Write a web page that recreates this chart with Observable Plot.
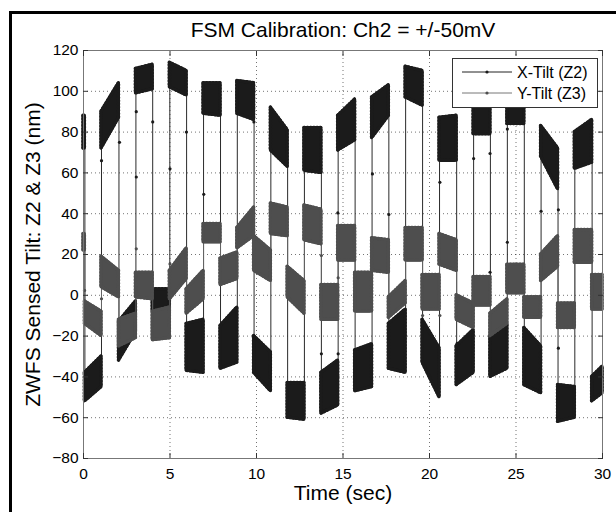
<!DOCTYPE html>
<html><head><meta charset="utf-8">
<script src="https://cdn.jsdelivr.net/npm/d3@7"></script>
<script src="https://cdn.jsdelivr.net/npm/@observablehq/plot@0.6"></script>
<style>
body{margin:0;background:#fff;}
#wrap{position:relative;width:616px;height:512px;overflow:hidden;font-family:"Liberation Sans",Arial,sans-serif;}
.bar{position:absolute;background:#000;pointer-events:none;}
#legend{position:absolute;left:452px;top:58px;}
</style></head><body><div id="wrap"></div>
<script>
const titleText = "FSM Calibration: Ch2 = +/-50mV";
const xLabel = "Time (sec)";
const yLabel = "ZWFS Sensed Tilt: Z2 & Z3 (nm)";
const seriesNames = ["X-Tilt (Z2)", "Y-Tilt (Z3)"];
const xTicks = [0, 5, 10, 15, 20, 25, 30];
const yTicks = [-80, -60, -40, -20, 0, 20, 40, 60, 80, 100, 120];

// switching times (sec) between plateaus
const transitions = [0.08, 1.04, 2.05, 3.03, 4.0, 4.99, 5.96, 6.94, 7.92, 8.89, 9.86, 10.83, 11.8, 12.77, 13.75, 14.72, 15.7, 16.68, 17.65, 18.62, 19.6, 20.58, 21.57, 22.55, 23.52, 24.5, 25.48, 26.45, 27.43, 28.4, 29.4];
const tStart = 0, tEnd = 30;

// per plateau: [low at start, high at start, low at end, high at end] (nm)
const xTilt = [
  [72,88,72,88],[-52,-38,-45,-30],[72,90,87,104],[-32,-13,-18,-3],
  [99,111,101,113],[-8,3,-9,3],[102,114,98,110],[-37,-14,-38,-12],
  [89,104,88,104],[-36,-15,-33,-6],[89,105,86,104],[-38,-20,-47,-28],
  [71,92,63,81],[-60,-43,-61,-43],[61,82,60,82],[-58,-38,-54,-32],
  [71,88,76,96],[-47,-27,-45,-24],[77,97,88,103],[-36,-14,-38,-7],
  [97,112,93,110],[-33,-12,-50,-26],[66,87,66,88],[-44,-25,-38,-17],
  [79,97,79,97],[-40,-20,-36,-14],[84,96,84,96],[-44,-16,-48,-25],
  [68,83,52,72],[-62,-44,-60,-45],[62,80,65,86],[-52,-40,-48,-35]
];
const yTilt = [
  [22,30,22,30],[-14,-3,-20,-8],[4,19,-1,12],[-25,-12,-21,-9],
  [-1,11,-2,11],[-22,-8,-21,-6],[-2,12,8,23],[-9,3,-2,12],
  [26,35,26,35],[5,18,8,21],[23,33,29,43],[12,29,7,22],
  [30,45,29,43],[-1,14,-9,7],[27,44,25,42],[-12,5,-12,5],
  [17,34,17,34],[-8,11,-8,11],[12,28,11,27],[-11,-1,-4,7],
  [17,33,17,33],[-7,10,-7,10],[15,30,12,27],[-12,0,-16,-4],
  [-5,9,-5,9],[-20,-9,-14,-2],[1,15,1,15],[-11,-1,-11,-1],
  [7,20,14,29],[-16,-4,-16,-4],[16,32,16,32],[-7,10,-7,10]
];
// isolated samples caught during the switches
const xOutT = [1.04,2.08,3.05,3.05,4.0,5.0,5.95,6.95,9.85,16.7,20.6,22.55,23.5,24.5,14.7,17.65,26.45,27.45,24.5,23.5,21.6,27.45,13.75,14.72];
const xOutV = [66,75,90,58,85,62,80,49.5,85,59.5,55.4,67,69.5,81.5,40.4,39.6,41.2,41.9,26,11.3,-23.5,-25.9,-28.7,-28.7];
const yOutT = [0.06,1.04,3.05,5.0,13.75,14.72,19.6,20.6];
const yOutV = [2.4,-1.7,22.8,15.4,19.5,8.6,-9.9,-9.9];

const colors = {x: "#1b1b1b", y: "#4e4e4e"};

const starts = [tStart, ...transitions];
const ends = [...transitions, tEnd];
function areaRows(vals) {
  const rows = [];
  vals.forEach((v, j) => {
    rows.push({seg: j, t: starts[j], lo: v[0], hi: v[1]});
    rows.push({seg: j, t: ends[j], lo: v[2], hi: v[3]});
  });
  return rows;
}
function jumpRows(vals) {
  return transitions.map((t, k) => ({
    t,
    a: (vals[k][2] + vals[k][3]) / 2,
    b: (vals[k + 1][0] + vals[k + 1][1]) / 2
  }));
}
const xArea = areaRows(xTilt), yArea = areaRows(yTilt);
const xJump = jumpRows(xTilt), yJump = jumpRows(yTilt);
const xOut = xOutT.map((t, i) => ({t, v: xOutV[i]}));
const yOut = yOutT.map((t, i) => ({t, v: yOutV[i]}));

const blob = (data, c) => [
  Plot.areaY(data, {x: "t", y1: "lo", y2: "hi", z: "seg", fill: c, stroke: c, strokeWidth: 3, strokeLinejoin: "round", curve: "linear"}),
  Plot.areaY(data, {x: "t", y1: "lo", y2: "hi", z: "seg", fill: "none", stroke: c, strokeWidth: 3.5, strokeDasharray: "0.8,2.4", strokeLinecap: "round", strokeLinejoin: "round", curve: "linear"})
];

const plot = Plot.plot({
  width: 616, height: 512,
  marginLeft: 83, marginRight: 14, marginTop: 50, marginBottom: 54,
  style: {fontFamily: '"Liberation Sans", Arial, sans-serif', fontSize: "15.5px", background: "transparent", color: "#000"},
  x: {domain: [0, 30], ticks: xTicks},
  y: {domain: [-80, 120], ticks: yTicks},
  marks: [
    Plot.gridX(xTicks, {stroke: "#000", strokeOpacity: 0.55, strokeDasharray: "1,3"}),
    Plot.gridY(yTicks, {stroke: "#000", strokeOpacity: 0.55, strokeDasharray: "1,3"}),
    Plot.ruleX(xJump, {x: "t", y1: "a", y2: "b", stroke: "#2a2a2a", strokeWidth: 1}),
    ...blob(xArea, colors.x),
    Plot.dot(xOut, {x: "t", y: "v", r: 1.6, fill: colors.x}),
    Plot.ruleX(yJump, {x: "t", y1: "a", y2: "b", stroke: "#666", strokeWidth: 1}),
    ...blob(yArea, colors.y),
    Plot.dot(yOut, {x: "t", y: "v", r: 1.6, fill: colors.y}),
    Plot.frame({stroke: "#777", strokeWidth: 1}),
    Plot.axisX(xTicks, {anchor: "bottom", tickSize: 0, tickPadding: 9, label: null, fontSize: "15.5px"}),
    Plot.axisY(yTicks, {anchor: "left", tickSize: 0, tickPadding: 5, label: null, fontSize: "15.5px"}),
    Plot.axisX(xTicks, {anchor: "bottom", tickSize: -5, tickFormat: () => "", label: null, stroke: "#333"}),
    Plot.axisX(xTicks, {anchor: "top", tickSize: -5, tickFormat: () => "", label: null, stroke: "#333"}),
    Plot.axisY(yTicks, {anchor: "left", tickSize: -5, tickFormat: () => "", label: null, stroke: "#333"}),
    Plot.axisY(yTicks, {anchor: "right", tickSize: -5, tickFormat: () => "", label: null, stroke: "#333"}),
    Plot.text([titleText], {frameAnchor: "top", lineAnchor: "bottom", textAnchor: "middle", dy: -14, fontSize: 21, fill: "#000"}),
    Plot.text([xLabel], {frameAnchor: "bottom", lineAnchor: "bottom", textAnchor: "middle", dy: 41, fontSize: 21, fill: "#000"}),
    Plot.text([yLabel], {frameAnchor: "left", rotate: -90, dx: -50, textAnchor: "middle", lineAnchor: "middle", fontSize: 21, fill: "#000"})
  ]
});

const wrap = document.getElementById("wrap");
plot.style.position = "absolute";
plot.style.left = "0px";
plot.style.top = "0px";
wrap.appendChild(plot);

// legend
const legend = document.createElementNS("http://www.w3.org/2000/svg", "svg");
legend.setAttribute("id", "legend");
legend.setAttribute("width", 146);
legend.setAttribute("height", 50);
const lineColors = ["#222", "#777"];
const markColors = [colors.x, colors.y];
let inner = `<rect x="0.5" y="0.5" width="145" height="49" fill="#fff" stroke="#333" stroke-width="1"/>`;
seriesNames.forEach((name, i) => {
  const yy = 14 + i * 21;
  inner += `<line x1="10" x2="60" y1="${yy}" y2="${yy}" stroke="${lineColors[i]}" stroke-width="1"/>`;
  inner += `<circle cx="35" cy="${yy}" r="1.6" fill="${markColors[i]}"/>`;
  inner += `<text x="65" y="${yy + 5.5}" font-size="16" font-family="Liberation Sans, Arial, sans-serif" fill="#000">${name}</text>`;
});
legend.innerHTML = inner;
wrap.appendChild(legend);

// outer figure border (left and top edges visible)
const vbar = document.createElement("div");
vbar.className = "bar";
Object.assign(vbar.style, {left: "9px", top: "11px", width: "3px", height: "520px"});
const hbar = document.createElement("div");
hbar.className = "bar";
Object.assign(hbar.style, {left: "9px", top: "11px", width: "620px", height: "2.5px"});
wrap.appendChild(vbar);
wrap.appendChild(hbar);
</script></body></html>
